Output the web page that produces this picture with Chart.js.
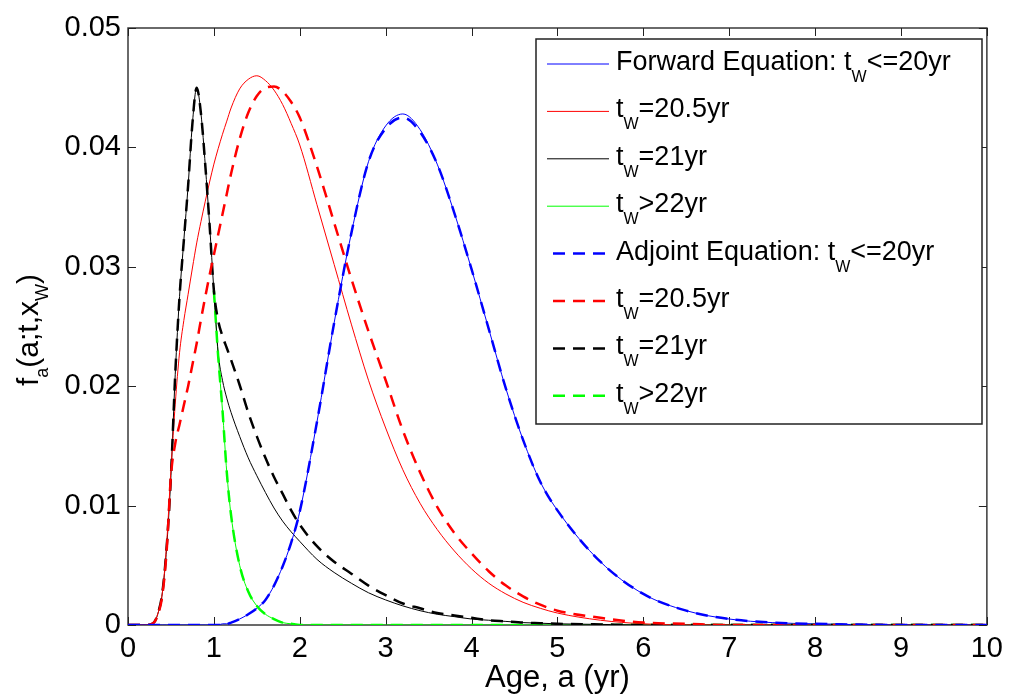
<!DOCTYPE html>
<html>
<head>
<meta charset="utf-8">
<script src="https://cdn.jsdelivr.net/npm/chart.js@4.4.0/dist/chart.umd.min.js"></script>
<style>
  body { margin: 0; background: #fff; }
</style>
</head>
<body>
<canvas id="age-chart" width="1010" height="700"></canvas>
<script>
// Age grid (yr) shared by all curves
const ages = [0, 0.2, 0.3, 0.35, 0.4, 0.45, 0.5, 0.55, 0.6, 0.65, 0.7, 0.75, 0.8, 0.85, 0.9, 0.95,
  1.0, 1.05, 1.1, 1.15, 1.2, 1.3, 1.4, 1.5, 1.6, 1.7, 1.8, 1.9, 2.0, 2.2, 2.4, 2.6, 2.8, 3.0,
  3.2, 3.4, 3.6, 3.8, 4.0, 4.2, 4.4, 4.6, 4.8, 5.0, 5.5, 6.0, 6.5, 7.0, 7.5, 8.0, 9.0, 10.0];

// Forward equation
const fwd20 = [0, 0, 0, 0, 0, 0, 0, 0, 0, 0, 0, 0, 0, 0, 0, 0,
  0, 0, 0.0001, 0.0001, 0.0002, 0.0005, 0.0009, 0.0014, 0.0021, 0.0033, 0.0049, 0.0069, 0.0095, 0.0170, 0.0253, 0.0328, 0.0388, 0.0418,
  0.0428, 0.0415, 0.0386, 0.0345, 0.0298, 0.0248, 0.0198, 0.0155, 0.0120, 0.0096, 0.0053, 0.0026, 0.0012, 0.0005, 0.0002, 0.0001, 0, 0];
const fwd205 = [0, 0, 0.0002, 0.0010, 0.0027, 0.0068, 0.0130, 0.0185, 0.0228, 0.0255, 0.0277, 0.0299, 0.0320, 0.0338, 0.0355, 0.0371,
  0.0386, 0.0399, 0.0411, 0.0422, 0.0433, 0.0449, 0.0457, 0.0460, 0.0456, 0.0448, 0.0436, 0.0420, 0.0402, 0.0352, 0.0302, 0.0252, 0.0205, 0.0165,
  0.0130, 0.0102, 0.0080, 0.0062, 0.0047, 0.0035, 0.0026, 0.0019, 0.0014, 0.0010, 0.0004, 0.0001, 0, 0, 0, 0, 0, 0];
const fwd21 = [0, 0, 0.0002, 0.0010, 0.0027, 0.0065, 0.0125, 0.0210, 0.0275, 0.0322, 0.0368, 0.0420, 0.0450, 0.0428, 0.0385, 0.0335,
  0.0280, 0.0228, 0.0205, 0.0190, 0.0178, 0.0158, 0.0140, 0.0125, 0.0111, 0.0098, 0.0087, 0.0078, 0.0070, 0.0055, 0.0044, 0.0035, 0.0027, 0.0021,
  0.0016, 0.0012, 0.0009, 0.0007, 0.0005, 0.0004, 0.0003, 0.0002, 0.00015, 0.0001, 0.00005, 0, 0, 0, 0, 0, 0, 0];
const fwd22 = [null, null, null, null, null, null, null, null, null, null, null, null, null, null, null, null,
  0.0280, 0.0225, 0.0180, 0.0128, 0.0092, 0.0050, 0.0028, 0.0016, 0.0009, 0.0005, 0.0002, 0.0001, 0, 0, 0, 0, 0, 0,
  0, 0, 0, 0, 0, 0, 0, 0, 0, 0, 0, 0, 0, 0, 0, 0, 0, 0];

// Adjoint equation
const adj20 = [0, 0, 0, 0, 0, 0, 0, 0, 0, 0, 0, 0, 0, 0, 0, 0,
  0, 0, 0.0001, 0.0001, 0.0002, 0.0005, 0.0009, 0.0014, 0.0021, 0.0033, 0.0049, 0.0069, 0.0095, 0.0170, 0.0253, 0.0328, 0.0388, 0.0416,
  0.0425, 0.0413, 0.0386, 0.0345, 0.0298, 0.0248, 0.0198, 0.0155, 0.0120, 0.0096, 0.0053, 0.0026, 0.0012, 0.0005, 0.0002, 0.0001, 0, 0];
const adj205 = [0, 0, 0.0002, 0.0009, 0.0025, 0.0062, 0.0125, 0.0152, 0.0168, 0.0184, 0.0200, 0.0218, 0.0236, 0.0256, 0.0275, 0.0293,
  0.0310, 0.0327, 0.0344, 0.0361, 0.0378, 0.0407, 0.0429, 0.0443, 0.0450, 0.0451, 0.0447, 0.0438, 0.0425, 0.0384, 0.0337, 0.0290, 0.0246, 0.0205,
  0.0163, 0.0128, 0.0099, 0.0077, 0.0060, 0.0045, 0.0033, 0.0024, 0.0017, 0.0012, 0.0006, 0.0002, 0.0001, 0, 0, 0, 0, 0];
const adj21 = [0, 0, 0.0002, 0.0010, 0.0027, 0.0065, 0.0125, 0.0210, 0.0275, 0.0322, 0.0368, 0.0420, 0.0450, 0.0428, 0.0385, 0.0335,
  0.0280, 0.0255, 0.0242, 0.0232, 0.0222, 0.0201, 0.0178, 0.0158, 0.0140, 0.0124, 0.0110, 0.0096, 0.0084, 0.0066, 0.0053, 0.0043, 0.0033, 0.0025,
  0.0018, 0.0014, 0.0010, 0.0008, 0.0006, 0.0004, 0.0003, 0.0002, 0.00015, 0.0001, 0.00005, 0, 0, 0, 0, 0, 0, 0];
const adj22 = [null, null, null, null, null, null, null, null, null, null, null, null, null, null, null, null,
  0.0280, 0.0225, 0.0180, 0.0128, 0.0092, 0.0050, 0.0028, 0.0016, 0.0009, 0.0005, 0.0002, 0.0001, 0, 0, 0, 0, 0, 0,
  0, 0, 0, 0, 0, 0, 0, 0, 0, 0, 0, 0, 0, 0, 0, 0, 0, 0];

const legendLabels = [
  'Forward Equation: t_W<=20yr', 't_W=20.5yr', 't_W=21yr', 't_W>22yr',
  'Adjoint Equation: t_W<=20yr', 't_W=20.5yr', 't_W=21yr', 't_W>22yr'
];
const xTitle = 'Age, a (yr)';
const yTitle = 'f_a(a;t,x_W)';

const FONT = '"Liberation Sans", Arial, Helvetica, sans-serif';
const colors = ['#0000ff', '#ff0000', '#000000', '#00ff00'];
const series = [fwd20, fwd205, fwd21, fwd22, adj20, adj205, adj21, adj22];

const toPoints = vals => vals.map((v, i) => ({ x: ages[i], y: v }));

const datasets = series.map((vals, i) => {
  const adjoint = i >= 4;
  return {
    label: legendLabels[i],
    data: toPoints(vals),
    borderColor: colors[i % 4],
    borderWidth: adjoint ? 2.5 : 1,
    borderDash: adjoint ? [12, 8] : [],
    order: adjoint ? 0 : 1,
    pointRadius: 0,
    fill: false
  };
});

// text with one-letter subscripts written as _X
function drawRich(ctx, str, x, y, size, subSize, subDrop, align) {
  const parts = str.split(/(_\w)/).filter(s => s).map(s =>
    s[0] === '_' ? { t: s.slice(1), sub: true } : { t: s, sub: false });
  const fontOf = p => `${p.sub ? subSize : size}px ${FONT}`;
  let w = 0;
  parts.forEach(p => { ctx.font = fontOf(p); p.w = ctx.measureText(p.t).width; w += p.w; });
  let cx = align === 'center' ? x - w / 2 : x;
  ctx.textAlign = 'left';
  ctx.textBaseline = 'alphabetic';
  parts.forEach(p => {
    ctx.font = fontOf(p);
    ctx.fillText(p.t, cx, p.sub ? y + subDrop : y);
    cx += p.w;
  });
}

// MATLAB-like box with inward ticks
const axesBox = {
  id: 'axesBox',
  beforeDatasetsDraw(chart) {
    const { ctx, chartArea: a, scales: { x, y } } = chart;
    ctx.save();
    ctx.strokeStyle = '#3a3a3a';
    ctx.lineWidth = 1.5;
    ctx.strokeRect(a.left, a.top, a.right - a.left, a.bottom - a.top);
    ctx.lineWidth = 1;
    ctx.strokeStyle = '#222';
    ctx.beginPath();
    x.ticks.forEach(t => {
      const px = Math.round(x.getPixelForValue(t.value)) + 0.5;
      ctx.moveTo(px, a.bottom); ctx.lineTo(px, a.bottom - 8);
      ctx.moveTo(px, a.top); ctx.lineTo(px, a.top + 8);
    });
    y.ticks.forEach(t => {
      const py = Math.round(y.getPixelForValue(t.value)) + 0.5;
      ctx.moveTo(a.left, py); ctx.lineTo(a.left + 8, py);
      ctx.moveTo(a.right, py); ctx.lineTo(a.right - 8, py);
    });
    ctx.stroke();

    // y axis title, rotated
    ctx.fillStyle = '#000';
    ctx.translate(38, 330);
    ctx.rotate(-Math.PI / 2);
    drawRich(ctx, yTitle, 0, 0, 30, 18, 10, 'center');
    ctx.restore();
  }
};

const richLegend = {
  id: 'richLegend',
  afterDraw(chart) {
    const { ctx } = chart;
    const box = { left: 536, top: 39, right: 982, bottom: 424 };
    ctx.save();
    ctx.fillStyle = '#fff';
    ctx.fillRect(box.left, box.top, box.right - box.left, box.bottom - box.top);
    ctx.strokeStyle = '#222';
    ctx.lineWidth = 1.5;
    ctx.strokeRect(box.left, box.top, box.right - box.left, box.bottom - box.top);
    chart.data.datasets.forEach((ds, i) => {
      const rowY = 64 + i * 47.4;
      ctx.strokeStyle = ds.borderColor;
      ctx.lineWidth = ds.borderWidth;
      ctx.setLineDash(ds.borderDash);
      ctx.beginPath();
      if (ds.borderDash.length) {
        ctx.moveTo(553, rowY); ctx.lineTo(609, rowY);
      } else {
        ctx.moveTo(547, rowY); ctx.lineTo(609, rowY);
      }
      ctx.stroke();
      ctx.setLineDash([]);
      ctx.fillStyle = '#000';
      drawRich(ctx, ds.label, 616, rowY + 6, 27, 16, 12, 'left');
    });
    ctx.restore();
  }
};

const tickFont = { family: FONT, size: 29 };

new Chart(document.getElementById('age-chart'), {
  type: 'line',
  data: { datasets },
  options: {
    responsive: false,
    animation: false,
    devicePixelRatio: 1,
    layout: { padding: { left: 0, right: 18, top: 28, bottom: 0 } },
    elements: { line: { cubicInterpolationMode: 'monotone' } },
    plugins: { legend: { display: false }, tooltip: { enabled: false } },
    scales: {
      x: {
        type: 'linear', min: 0, max: 10,
        grid: { display: false, drawTicks: false },
        border: { display: false },
        ticks: { stepSize: 1, autoSkip: false, maxRotation: 0, padding: 7, color: '#000', font: tickFont },
        title: { display: true, text: xTitle, color: '#000', font: { family: FONT, size: 31 }, padding: { top: 0, bottom: 3 } },
        afterFit: s => { s.height = 75; }
      },
      y: {
        min: 0, max: 0.05,
        grid: { display: false, drawTicks: false },
        border: { display: false },
        ticks: { stepSize: 0.01, padding: 7, color: '#000', font: tickFont,
          callback: v => v === 0 ? '0' : v.toFixed(2) },
        afterFit: s => { s.width = 128; }
      }
    }
  },
  plugins: [axesBox, richLegend]
});
</script>
</body>
</html>
